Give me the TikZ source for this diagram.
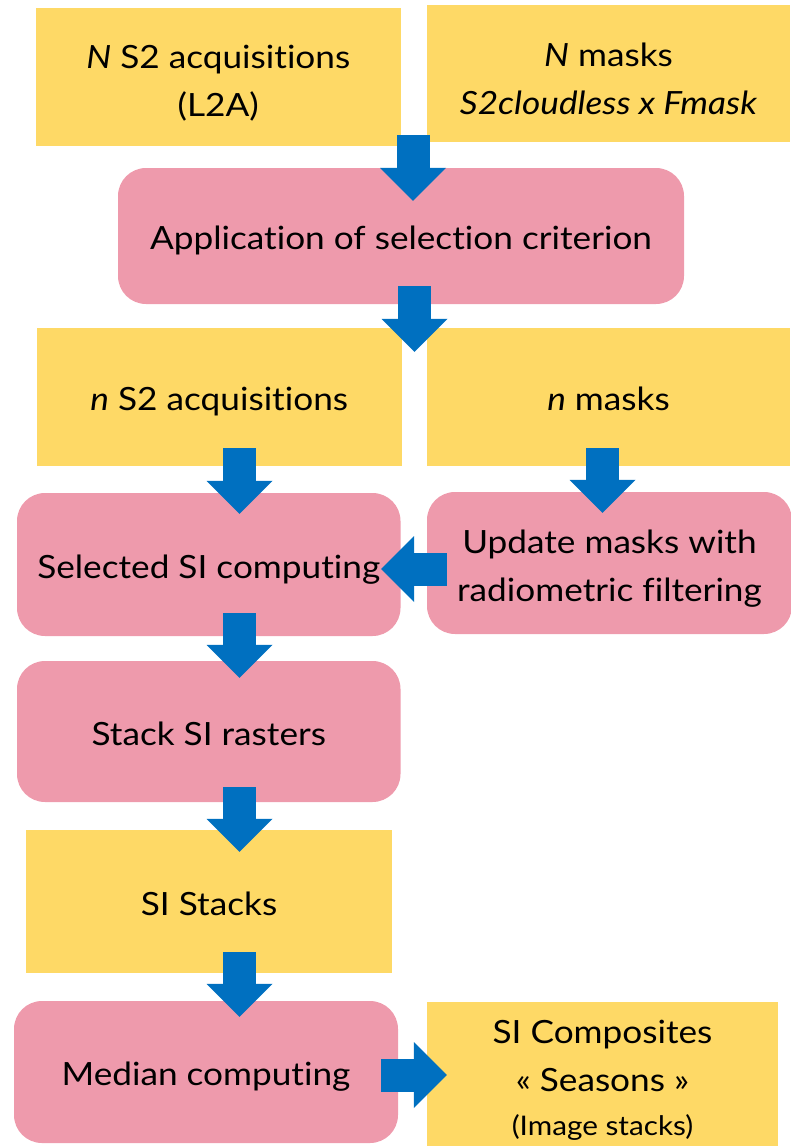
\documentclass[tikz,border=0pt]{standalone}
\usepackage{fontspec}
\setmainfont{Lato}[FakeStretch=1.1,Ligatures=NoCommon]
\usetikzlibrary{arrows.meta,calc}
\definecolor{boxyellow}{RGB}{254,217,102}
\definecolor{boxpink}{RGB}{238,154,172}
\definecolor{arrowblue}{RGB}{0,112,192}
\newcommand\lnstrut{\rule[-8pt]{0pt}{43pt}}
\tikzset{
  databox/.style={fill=boxyellow, draw=none, inner sep=0pt, align=center,
    font=\fontsize{32}{48}\selectfont},
  procbox/.style={fill=boxpink, draw=none, rounded corners=28pt, inner sep=0pt, align=center,
    font=\fontsize{32}{48}\selectfont},
  barrow/.style={draw=arrowblue, line width=33pt,
    -{Triangle[width=66pt,length=33pt,line width=0pt,fill=arrowblue,color=arrowblue]}}
}
\begin{document}
\begin{tikzpicture}[x=1pt,y=-1pt]
\useasboundingbox (0,0) rectangle (790,1146);
% boxes
\node[databox, minimum width=364.5pt, minimum height=138pt] (A) at (218.25,77)
  {\lnstrut\textit{N} S2 acquisitions\\(L2A)};
\node[databox, minimum width=363pt, minimum height=137pt] (B) at (608.5,73.5)
  {\lnstrut\textit{N} masks\\\textit{S2cloudless x Fmask}};
\node[procbox, minimum width=566pt, minimum height=136pt] (C) at (401,236)
  {\lnstrut Application of selection criterion};
\node[databox, minimum width=364.5pt, minimum height=138pt] (D) at (219.25,397)
  {\lnstrut\textit{n} S2 acquisitions};
\node[databox, minimum width=363pt, minimum height=138pt] (E) at (608.5,397)
  {\lnstrut\textit{n} masks};
\node[procbox, minimum width=383.5pt, minimum height=143pt] (F) at (208.75,564.5)
  {\lnstrut Selected SI computing};
\node[procbox, minimum width=365pt, minimum height=142pt] (G) at (609.5,563)
  {\lnstrut Update masks with\\radiometric filtering};
\node[procbox, minimum width=383.5pt, minimum height=141pt] (H) at (208.75,731.5)
  {\lnstrut Stack SI rasters};
\node[databox, minimum width=366pt, minimum height=143pt] (I) at (209,901.5)
  {\lnstrut SI Stacks};
\node[procbox, minimum width=384pt, minimum height=142pt] (J) at (206,1072)
  {\lnstrut Median computing};
\node[databox, minimum width=351pt, minimum height=146pt] (K) at (602.5,1075)
  {\lnstrut SI Composites\\« Seasons »\\[-4pt]{\fontsize{27}{40}\selectfont\rule[-7pt]{0pt}{28pt}(Image stacks)}};
% arrow axes
\coordinate (gapAB) at (413,0);
\coordinate (gapC) at (414.5,0);
\coordinate (colL) at (239.5,0);
\coordinate (colR) at (602.5,0);
% arrows
\draw[barrow] ($(gapAB |- C.north)+(0,-33)$) -- ($(gapAB |- C.north)+(0,33)$);
\draw[barrow] ($(gapC |- C.south)+(0,-18)$) -- ($(gapC |- D.north)+(0,24)$);
\draw[barrow] ($(colL |- D.south)+(0,-18)$) -- ($(colL |- F.north)+(0,21)$);
\draw[barrow] ($(colR |- E.south)+(0,-18)$) -- ($(colR |- G.north)+(0,21)$);
\draw[barrow] ($(G.west)+(20,6)$) -- ($(F.east |- G.west)+(-19.5,6)$);
\draw[barrow] ($(colL |- F.south)+(0,-23)$) -- ($(colL |- H.north)+(0,17)$);
\draw[barrow] ($(colL |- H.south)+(0,-15)$) -- ($(colL |- I.north)+(0,22)$);
\draw[barrow] ($(colL |- I.south)+(0,-21)$) -- ($(colL |- J.north)+(0,16)$);
\draw[barrow] ($(J.east)+(-17,3)$) -- ($(K.west |- J.east)+(20,3)$);
\end{tikzpicture}
\end{document}
